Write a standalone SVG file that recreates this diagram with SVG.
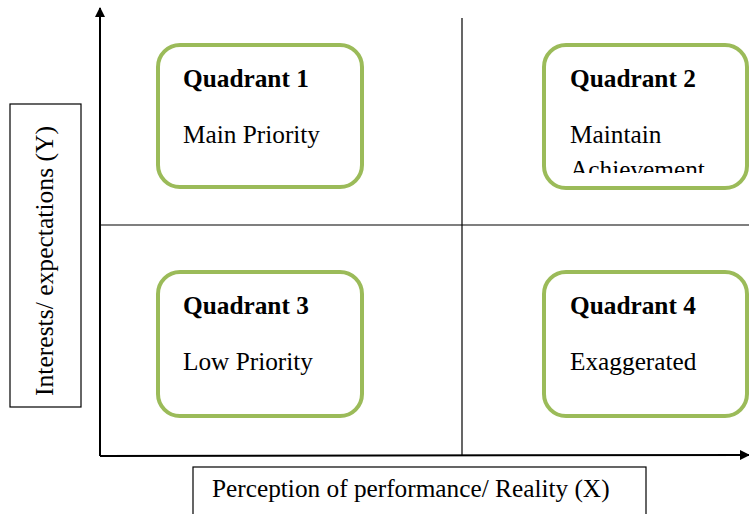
<svg xmlns="http://www.w3.org/2000/svg" width="749" height="514" viewBox="0 0 749 514">
  <style>
    .quad { fill: #ffffff; stroke: #9bbb59; stroke-width: 4; }
    .axis { stroke: #000000; stroke-width: 2; fill: none; }
    .grid { stroke: #000000; stroke-width: 1.2; fill: none; }
    .label-box { fill: #ffffff; stroke: #000000; stroke-width: 1.2; }
    .title { font-family: "Liberation Serif", "Times New Roman", serif; font-size: 25.3px; font-weight: bold; fill: #000000; }
    .body { font-family: "Liberation Serif", "Times New Roman", serif; font-size: 25.3px; fill: #000000; }
    .axis-label { font-family: "Liberation Serif", "Times New Roman", serif; fill: #000000; }
  </style>
  <defs>
    <marker id="arrow" markerWidth="10" markerHeight="10" refX="9" refY="5" orient="auto" markerUnits="userSpaceOnUse">
      <path d="M0,0 L10,5 L0,10 Z" fill="#000000"/>
    </marker>
    <clipPath id="q2clip">
      <rect x="546" y="47" width="199" height="126"/>
    </clipPath>
  </defs>
  <rect width="749" height="514" fill="#ffffff"/>

  <g id="connectors">
    <line class="grid" x1="462" y1="18" x2="462" y2="456"/>
    <line class="grid" x1="100" y1="225" x2="749" y2="225"/>
    <line class="axis" x1="100" y1="456" x2="100" y2="8" marker-end="url(#arrow)"/>
    <line class="axis" x1="100" y1="456" x2="749" y2="455" marker-end="url(#arrow)"/>
  </g>

  <g id="quadrant1">
    <rect class="quad" x="158" y="45" width="204" height="142" rx="22"/>
    <text class="title" x="183" y="86.5">Quadrant 1</text>
    <text class="body" x="183" y="142.5">Main Priority</text>
  </g>

  <g id="quadrant2">
    <rect class="quad" x="544" y="45" width="203" height="143" rx="22"/>
    <text class="title" x="570" y="86.5">Quadrant 2</text>
    <g clip-path="url(#q2clip)">
      <text class="body" x="570" y="142.5">Maintain</text>
      <text class="body" x="570" y="178">Achievement</text>
    </g>
  </g>

  <g id="quadrant3">
    <rect class="quad" x="158" y="272" width="204" height="144" rx="22"/>
    <text class="title" x="183" y="314">Quadrant 3</text>
    <text class="body" x="183" y="370">Low Priority</text>
  </g>

  <g id="quadrant4">
    <rect class="quad" x="544" y="272" width="203" height="144" rx="22"/>
    <text class="title" x="570" y="314">Quadrant 4</text>
    <text class="body" x="570" y="370">Exaggerated</text>
  </g>

  <g id="y-label">
    <rect class="label-box" x="10" y="104" width="71" height="303"/>
    <text class="axis-label" font-size="25.6" transform="translate(53,261) rotate(-90)" text-anchor="middle">Interests/ expectations (Y)</text>
  </g>

  <g id="x-label">
    <rect class="label-box" x="193" y="467" width="453" height="60"/>
    <text class="axis-label" font-size="25.3" x="212" y="497">Perception of performance/ Reality (X)</text>
  </g>
</svg>
